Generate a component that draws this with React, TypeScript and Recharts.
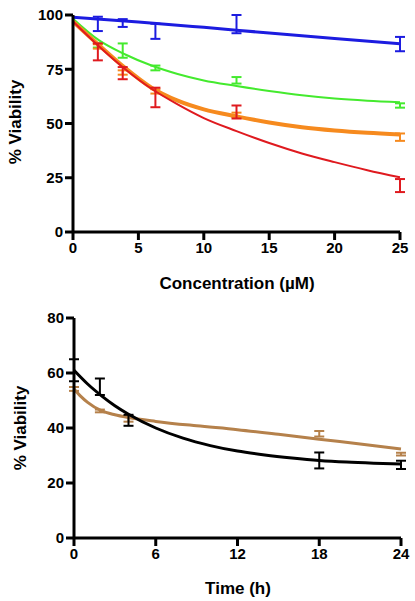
import React from 'react';
import { ComposedChart, Line, Scatter, ErrorBar, XAxis, YAxis } from 'recharts';

// ---- Top panel: viability vs concentration ----
const concTicks = [0, 5, 10, 15, 20, 25];
const viabTicks = [0, 25, 50, 75, 100];

const blueFit = [
  { x: 0, y: 99 }, { x: 5, y: 96.8 }, { x: 10, y: 94.3 }, { x: 15, y: 91.7 },
  { x: 20, y: 89.2 }, { x: 25, y: 86.8 },
];
const greenFit = [
  { x: 0, y: 98.3 }, { x: 2, y: 88.3 }, { x: 4, y: 81.8 }, { x: 6, y: 76.7 },
  { x: 8, y: 72.8 }, { x: 10, y: 69.8 }, { x: 12.5, y: 67.3 }, { x: 15, y: 65.0 },
  { x: 17.5, y: 63.0 }, { x: 20, y: 61.5 }, { x: 22.5, y: 60.5 }, { x: 25, y: 59.8 },
];
const orangeFit = [
  { x: 0, y: 97 }, { x: 2, y: 86 }, { x: 4, y: 75.5 }, { x: 6, y: 66.5 },
  { x: 8, y: 60.5 }, { x: 10, y: 56.5 }, { x: 12.5, y: 53.3 }, { x: 15, y: 50.5 },
  { x: 17.5, y: 48.3 }, { x: 20, y: 46.8 }, { x: 22.5, y: 45.7 }, { x: 25, y: 44.9 },
];
const redFit = [
  { x: 0, y: 97 }, { x: 2, y: 85.5 }, { x: 4, y: 75 }, { x: 6, y: 66 },
  { x: 8, y: 58.8 }, { x: 10, y: 52.5 }, { x: 12.5, y: 46.5 }, { x: 15, y: 41 },
  { x: 17.5, y: 36.2 }, { x: 20, y: 32.2 }, { x: 22.5, y: 28.5 }, { x: 25, y: 25.2 },
];

const bluePts = [
  { x: 1.9, y: 95.9, err: 3.3 }, { x: 3.8, y: 96.3, err: 1.8 }, { x: 6.3, y: 92.5, err: 3.5 },
  { x: 12.5, y: 95.8, err: 4.2 }, { x: 25, y: 86.6, err: 3.3 },
];
const greenPts = [
  { x: 1.9, y: 86, err: 1 }, { x: 3.8, y: 83.6, err: 3.3 }, { x: 6.3, y: 75.6, err: 1.1 },
  { x: 12.5, y: 69.9, err: 1.5 }, { x: 25, y: 58.3, err: 1 },
];
const orangePts = [
  { x: 1.9, y: 85.5, err: 1 }, { x: 3.8, y: 73.5, err: 1 }, { x: 6.3, y: 64.8, err: 1 },
  { x: 12.5, y: 54, err: 1 }, { x: 25, y: 43.7, err: 1.7 },
];
const redPts = [
  { x: 1.9, y: 83, err: 3.9 }, { x: 3.8, y: 73.2, err: 2.8 }, { x: 6.3, y: 62, err: 4.5 },
  { x: 12.5, y: 55.3, err: 3 }, { x: 25, y: 21.4, err: 3 },
];

// ---- Bottom panel: viability vs time ----
const timeTicks = [0, 6, 12, 18, 24];
const viab2Ticks = [0, 20, 40, 60, 80];

const blackFit = [
  { x: 0, y: 61 }, { x: 1, y: 56 }, { x: 2, y: 51.8 }, { x: 3, y: 48.1 }, { x: 4, y: 45 },
  { x: 6, y: 40 }, { x: 8, y: 36.3 }, { x: 10, y: 33.6 }, { x: 12, y: 31.6 }, { x: 14, y: 30.2 },
  { x: 16, y: 29.1 }, { x: 18, y: 28.2 }, { x: 20, y: 27.6 }, { x: 22, y: 27.2 }, { x: 24, y: 26.9 },
];
const brownFit = [
  { x: 0, y: 54.2 }, { x: 0.5, y: 51.5 }, { x: 1, y: 49.3 }, { x: 2, y: 46.3 }, { x: 3, y: 44.8 },
  { x: 4, y: 43.8 }, { x: 6, y: 42.4 }, { x: 9, y: 40.8 }, { x: 12, y: 39.4 }, { x: 15, y: 37.7 },
  { x: 18, y: 35.9 }, { x: 21, y: 34.2 }, { x: 24, y: 32.4 },
];
const blackPts = [
  { x: 0, y: 61, err: 4 }, { x: 1.9, y: 55, err: 3 }, { x: 4, y: 42.8, err: 2 },
  { x: 18, y: 28.2, err: 2.9 }, { x: 24, y: 26.6, err: 1.5 },
];
const brownPts = [
  { x: 0, y: 54.2, err: 0.7 }, { x: 1.9, y: 46.2, err: 0.5 }, { x: 4, y: 43.3, err: 1 },
  { x: 18, y: 37.9, err: 1 }, { x: 24, y: 30.5, err: 0.5 },
];

const FONT = '"Liberation Sans", Arial, Helvetica, sans-serif';
const tickStyle = { fill: '#000', fontSize: 15, fontWeight: 'bold', fontFamily: FONT };
const axisLine = { stroke: '#000', strokeWidth: 3 };
const tickLine = { stroke: '#000', strokeWidth: 3 };

const C = {
  blue: '#1c1ce0',
  green: '#44ea2e',
  orange: '#f68a1e',
  red: '#df1a1f',
  black: '#000000',
  brown: '#b5814b',
};

const noShape = () => <g />;

const titleText = (x: number, y: number, text: string, rotate = false) => () => (
  <text
    x={x}
    y={y}
    textAnchor="middle"
    dy={rotate ? '0.35em' : 0}
    transform={rotate ? `rotate(-90 ${x} ${y})` : undefined}
    style={{ fontFamily: FONT, fontWeight: 'bold', fontSize: 17, fill: '#000' }}
  >
    {text}
  </text>
);

function series(fit: any[], pts: any[], color: string, lw: number, key: string) {
  return [
    <Line
      key={key + 'l'}
      data={fit}
      dataKey="y"
      type="monotone"
      stroke={color}
      strokeWidth={lw}
      dot={false}
      activeDot={false}
      isAnimationActive={false}
    />,
    <Scatter key={key + 's'} data={pts} dataKey="y" shape={noShape} isAnimationActive={false} fill={color}>
      <ErrorBar dataKey="err" direction="y" width={5} stroke={color} strokeWidth={2} isAnimationActive={false} />
    </Scatter>,
  ];
}

export default function App() {
  return (
    <div style={{ position: 'absolute', left: 0, top: 0, width: 415, height: 601, background: '#fff' }}>
      <div style={{ position: 'absolute', left: 0, top: 0 }}>
        <ComposedChart width={415} height={300} margin={{ top: 15, right: 15, bottom: 0, left: 0 }}>
          <XAxis
            type="number"
            dataKey="x"
            domain={[0, 25]}
            ticks={concTicks}
            interval={0}
            height={68}
            axisLine={axisLine}
            tickLine={tickLine}
            tickSize={8}
            tickMargin={2}
            tick={tickStyle}
            label={titleText(237, 289, 'Concentration (µM)')}
          />
          <YAxis
            type="number"
            dataKey="y"
            domain={[0, 100]}
            ticks={viabTicks}
            interval={0}
            width={73}
            axisLine={axisLine}
            tickLine={tickLine}
            tickSize={8}
            tickMargin={2}
            tick={tickStyle}
            label={titleText(15, 122, '% Viability', true)}
          />
          {series(greenFit, greenPts, C.green, 2, 'g')}
          {series(orangeFit, orangePts, C.orange, 4, 'o')}
          {series(redFit, redPts, C.red, 2, 'r')}
          {series(blueFit, bluePts, C.blue, 3, 'b')}
        </ComposedChart>
      </div>
      <div style={{ position: 'absolute', left: 0, top: 300 }}>
        <ComposedChart width={415} height={301} margin={{ top: 18, right: 14, bottom: 0, left: 0 }}>
          <XAxis
            type="number"
            dataKey="x"
            domain={[0, 24]}
            ticks={timeTicks}
            interval={0}
            height={63}
            axisLine={axisLine}
            tickLine={tickLine}
            tickSize={8}
            tickMargin={2}
            tick={tickStyle}
            label={titleText(238, 294, 'Time (h)')}
          />
          <YAxis
            type="number"
            dataKey="y"
            domain={[0, 80]}
            ticks={viab2Ticks}
            interval={0}
            width={74}
            axisLine={axisLine}
            tickLine={tickLine}
            tickSize={8}
            tickMargin={2}
            tick={tickStyle}
            label={titleText(20, 128, '% Viability', true)}
          />
          {series(brownFit, brownPts, C.brown, 3, 'br')}
          {series(blackFit, blackPts, C.black, 3, 'bk')}
        </ComposedChart>
      </div>
    </div>
  );
}
